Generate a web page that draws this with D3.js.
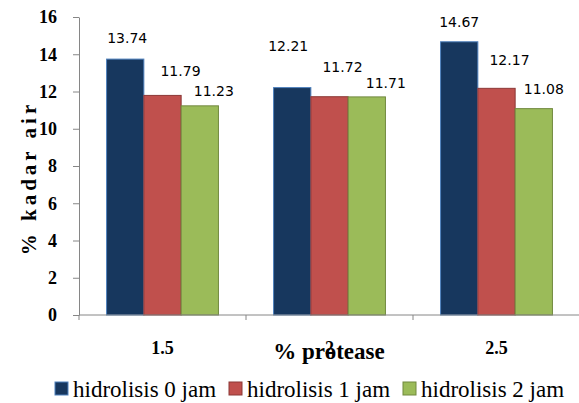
<!DOCTYPE html>
<html>
<head>
<meta charset="utf-8">
<script src="https://cdn.jsdelivr.net/npm/d3@7"></script>
<style>
  body { margin: 0; background: #fff; }
  svg { display: block; }
</style>
</head>
<body>
<div id="figure"></div>
<script>
// data
const categories = ["1.5", "2", "2.5"];
const seriesNames = ["hidrolisis 0 jam", "hidrolisis 1 jam", "hidrolisis 2 jam"];
const jam0 = [13.74, 12.21, 14.67];
const jam1 = [11.79, 11.72, 12.17];
const jam2 = [11.23, 11.71, 11.08];
const yTicks = [0, 2, 4, 6, 8, 10, 12, 14, 16];

// label nudges (the source labels were dragged by hand), [dx, dy] per category per series
const labelNudge = [
  [[2, -16], [18, -19], [14, -10]],
  [[-4, -37], [13, -25], [19, -9]],
  [[0, -15], [13, -23], [10, -15]]
];

const fills = ["#17375E", "#C0504D", "#9BBB59"];
const strokes = ["#4F81BD", "#8C3836", "#71893F"];
const serif = "'Liberation Serif', 'Times New Roman', serif";

const width = 579, height = 403;
const margin = {top: 17, right: 0, bottom: 88, left: 79};

const svg = d3.select("#figure")
  .append("svg")
  .attr("width", width)
  .attr("height", height);

const rows = categories.map((c, i) => ({cat: c, vals: [jam0[i], jam1[i], jam2[i]]}));

const x = d3.scaleBand()
  .domain(categories)
  .range([margin.left, 580]);

const pad = x.bandwidth() * 0.165;
const x1 = d3.scaleBand()
  .domain(d3.range(seriesNames.length))
  .range([pad, x.bandwidth() - pad]);

const y = d3.scaleLinear()
  .domain([0, 16])
  .range([height - margin.bottom, margin.top]);

// y axis
const yAxis = svg.append("g")
  .attr("transform", `translate(${margin.left},0)`)
  .call(d3.axisLeft(y).tickValues(yTicks).tickSize(6).tickPadding(16).tickSizeOuter(0));
yAxis.attr("font-family", serif);
yAxis.select(".domain").attr("stroke", "#868686");
yAxis.selectAll(".tick line").attr("stroke", "#868686");
yAxis.selectAll("text")
  .style("font-family", serif)
  .attr("font-weight", "bold")
  .attr("font-size", 18)
  .attr("fill", "#000");

// bars
const groups = svg.selectAll(".grp")
  .data(rows)
  .join("g")
  .attr("class", "grp")
  .attr("transform", d => `translate(${x(d.cat)},0)`);

groups.selectAll("rect")
  .data(d => d.vals)
  .join("rect")
  .attr("x", (d, i) => x1(i))
  .attr("y", d => y(d))
  .attr("width", x1.bandwidth())
  .attr("height", d => y(0) - y(d))
  .attr("fill", (d, i) => fills[i])
  .attr("stroke", (d, i) => strokes[i])
  .attr("stroke-width", 1);

groups.selectAll(".lbl")
  .data((d, gi) => d.vals.map((v, i) => ({v, i, gi})))
  .join("text")
  .attr("class", "lbl")
  .attr("x", d => x1(d.i) + x1.bandwidth() / 2 + labelNudge[d.gi][d.i][0])
  .attr("y", d => y(d.v) + labelNudge[d.gi][d.i][1])
  .attr("text-anchor", "middle")
  .style("font-family", "'DejaVu Sans', Verdana, sans-serif")
  .attr("font-size", 14)
  .attr("fill", "#000")
  .text(d => d3.format(".2f")(d.v));

// x axis: line plus ticks on category boundaries
const xAxis = svg.append("g")
  .attr("transform", `translate(0,${y(0)})`);
xAxis.append("line")
  .attr("x1", margin.left).attr("x2", 580)
  .attr("stroke", "#868686");
xAxis.selectAll(".bt")
  .data(categories.concat(["end"]))
  .join("line")
  .attr("class", "bt")
  .attr("x1", (d, i) => margin.left + i * x.bandwidth())
  .attr("x2", (d, i) => margin.left + i * x.bandwidth())
  .attr("y1", 0).attr("y2", 5)
  .attr("stroke", "#868686");
xAxis.selectAll(".xl")
  .data(categories)
  .join("text")
  .attr("class", "xl")
  .attr("x", d => x(d) + x.bandwidth() / 2)
  .attr("y", 39)
  .attr("text-anchor", "middle")
  .style("font-family", serif)
  .attr("font-weight", "bold")
  .attr("font-size", 18)
  .text(d => d);

// axis titles
svg.append("text")
  .attr("x", 329)
  .attr("y", 359)
  .attr("text-anchor", "middle")
  .style("font-family", serif)
  .attr("font-weight", "bold")
  .attr("font-size", 23)
  .text("% protease");

svg.append("text")
  .attr("transform", "translate(36,178) rotate(-90)")
  .attr("text-anchor", "middle")
  .style("font-family", serif)
  .attr("font-weight", "bold")
  .attr("font-size", 21)
  .attr("letter-spacing", 4)
  .text("% kadar air");

// legend
const legend = svg.selectAll(".leg")
  .data(seriesNames)
  .join("g")
  .attr("class", "leg")
  .attr("transform", (d, i) => `translate(${55 + i * 174},382)`);
legend.append("rect")
  .attr("width", 13).attr("height", 13)
  .attr("fill", (d, i) => fills[i])
  .attr("stroke", (d, i) => strokes[i]);
legend.append("text")
  .attr("x", 18)
  .attr("y", 15)
  .style("font-family", serif)
  .attr("font-size", 23)
  .text(d => d);
</script>
</body>
</html>
